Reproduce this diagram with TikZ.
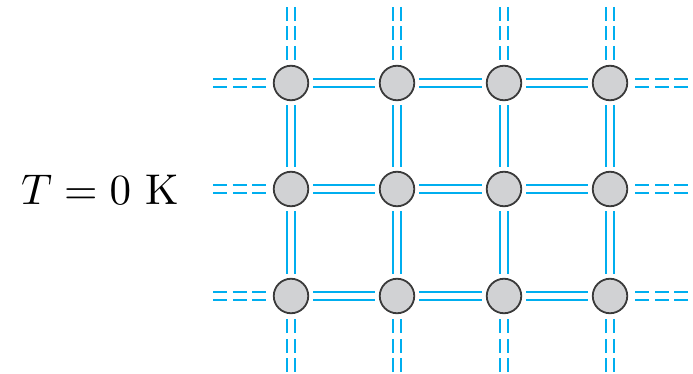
\documentclass[tikz,border=0pt]{standalone}
\usepackage{amsmath}
\definecolor{bondblue}{HTML}{00AEEF}
\definecolor{atomgray}{HTML}{D1D2D4}
\definecolor{atomedge}{HTML}{3A3A3A}
\tikzset{
  atom/.style={circle, draw=atomedge, line width=1.8pt, fill=atomgray,
               minimum size=34.5pt, inner sep=0pt, outer sep=0pt},
  bond/.style={draw=bondblue, line width=2.2pt, double=white,
               double distance=5.8pt, shorten <=5pt, shorten >=5pt},
  openbond/.style={bond, dash pattern=on 14pt off 5.5pt, shorten <=0pt, shorten >=6pt}
}
\begin{document}
\begin{tikzpicture}[x=1pt,y=-1pt]
  \useasboundingbox (0,0) rectangle (693,374);

  % temperature label
  \node[scale=4.3] (label) at (100,190) {$T = 0$~K};

  % lattice sites
  \foreach \c/\x in {1/291,2/397,3/504,4/610}{
    \foreach \r/\y in {1/83,2/189,3/296}{
      \node[atom] (a\c\r) at (\x,\y) {};
    }
  }

  % free ends of the bonds leaving the drawn part of the lattice
  \foreach \c/\x in {1/291,2/397,3/504,4/610}{
    \coordinate (top\c) at (\x,7);
    \coordinate (bot\c) at (\x,372);
  }
  \foreach \r/\y in {1/83,2/189,3/296}{
    \coordinate (lft\r) at (213,\y);
    \coordinate (rgt\r) at (688,\y);
  }

  % bonds between neighbouring sites
  \foreach \r in {1,2,3}{
    \draw[bond] (a1\r) -- (a2\r);
    \draw[bond] (a2\r) -- (a3\r);
    \draw[bond] (a3\r) -- (a4\r);
  }
  \foreach \c in {1,2,3,4}{
    \draw[bond] (a\c1) -- (a\c2);
    \draw[bond] (a\c2) -- (a\c3);
  }
  % bonds continuing beyond the edge
  \foreach \r in {1,2,3}{
    \draw[openbond] (lft\r) -- (a1\r);
    \draw[openbond] (rgt\r) -- (a4\r);
  }
  \foreach \c in {1,2,3,4}{
    \draw[openbond] (top\c) -- (a\c1);
    \draw[openbond] (bot\c) -- (a\c3);
  }
\end{tikzpicture}
\end{document}
